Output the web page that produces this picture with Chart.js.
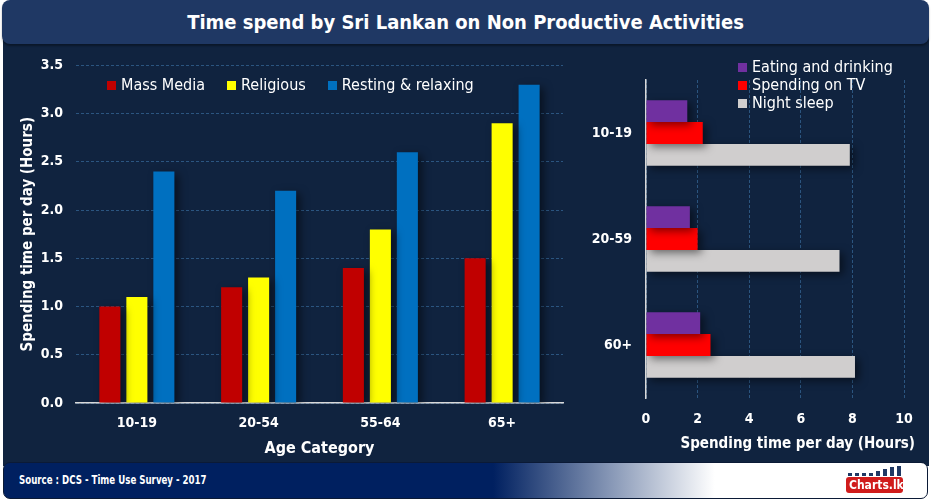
<!DOCTYPE html>
<html>
<head>
<meta charset="utf-8">
<script src="https://cdn.jsdelivr.net/npm/chart.js@4/dist/chart.umd.min.js"></script>
<style>
  html,body{margin:0;padding:0;background:#ffffff;width:931px;height:500px;overflow:hidden;}
  body{position:relative;font-family:"DejaVu Sans Condensed","Liberation Sans Narrow","Roboto",sans-serif;}
  #body{position:absolute;left:3px;top:30px;width:926px;height:436px;background:#10233f;}
  #titlebar{position:absolute;left:2px;top:0;width:927px;height:44px;background:#1f3864;border-radius:8px;
    box-shadow:0 2px 2px rgba(0,0,0,0.35);
    color:#fff;font-weight:bold;font-size:20px;text-align:center;line-height:44px;}
  #footer{position:absolute;left:3px;top:462px;width:923px;height:35px;border-radius:7px;border:1px solid #0b1a36;
    background:linear-gradient(to right,#002060 0%,#002060 53%,#8a9ab8 66%,#ffffff 77%,#ffffff 100%);}
  #src{position:absolute;left:15px;top:0;line-height:35px;color:#fff;font-size:12px;font-weight:bold;
    transform:scaleX(0.8);transform-origin:left center;white-space:nowrap;}
  #logo{position:absolute;left:843px;top:465px;width:64px;height:30px;}
  #logo .box{position:absolute;left:3px;top:12px;width:57px;height:16px;background:#d01c1c;border-radius:3px;color:#fff;
    font-size:12px;font-weight:bold;line-height:16px;text-indent:3px;}
  #logo .bars{position:absolute;left:5px;top:1px;height:10px;width:55px;}
  #logo .bars i{position:absolute;bottom:0;width:4px;background:#1f3864;}
  canvas{position:absolute;}
  #c1{left:3px;top:44px;}
  #c2{left:580px;top:44px;}
  .leg{position:absolute;color:#fff;font-size:16px;white-space:nowrap;}
  .leg span.sq{display:inline-block;width:9px;height:9px;margin-right:5px;}
  #xt2{position:absolute;left:620px;width:295px;top:434px;text-align:right;color:#fff;font-size:15px;font-weight:bold;white-space:nowrap;}
</style>
</head>
<body>
<div id="body"></div>
<div id="titlebar">Time spend by Sri Lankan on Non Productive Activities</div>
<canvas id="c1" width="577" height="418"></canvas>
<canvas id="c2" width="348" height="418"></canvas>
<div id="leg1"></div>
<div id="leg2"></div>
<div id="xt2"></div>
<div id="footer"><div id="src">Source : DCS - Time Use Survey - 2017</div></div>
<div id="logo"><div class="bars"><i style="left:0;height:3px"></i><i style="left:7px;height:3px"></i><i style="left:14px;height:3px"></i><i style="left:21px;height:3px"></i><i style="left:28px;height:5px"></i><i style="left:35px;height:7px"></i><i style="left:42px;height:9px"></i><i style="left:49px;height:10px"></i></div><div class="box">Charts.lk</div></div>
<script>
// ---- Data ----
const ageCategories = ["10-19", "20-54", "55-64", "65+"];
const massMedia = [1.0, 1.2, 1.4, 1.5];
const religious = [1.1, 1.3, 1.8, 2.9];
const restingRelaxing = [2.4, 2.2, 2.6, 3.3];
const leftSeriesNames = ["Mass Media", "Religious", "Resting & relaxing"];
const leftYTicks = [0, 0.5, 1.0, 1.5, 2.0, 2.5, 3.0, 3.5];

const ageGroups2 = ["10-19", "20-59", "60+"];
const eatingDrinking = [1.6, 1.7, 2.1];
const spendingTV = [2.2, 2.0, 2.5];
const nightSleep = [7.9, 7.5, 8.1];
const rightSeriesNames = ["Eating and drinking", "Spending on TV", "Night sleep"];
const rightXTicks = [0, 2, 4, 6, 8, 10];
const rightXTitle = "Spending time per day (Hours)";

// ---- Styles ----
const FONT = '"DejaVu Sans Condensed","Liberation Sans Narrow","Roboto",sans-serif';
const leftColors = ["#c00000", "#ffff00", "#0070c0"];
const rightColors = ["#7030a0", "#ff0000", "#d0cece"];
const gridColor = "#2b5580";

const shadowPlugin = {
  id: 'barShadow',
  beforeDatasetsDraw(chart) {
    const ctx = chart.ctx;
    ctx.save();
    ctx.shadowColor = 'rgba(0,0,0,0.5)';
    ctx.shadowBlur = 8;
    ctx.shadowOffsetX = 4;
    ctx.shadowOffsetY = 3;
  },
  afterDatasetsDraw(chart) { chart.ctx.restore(); }
};

Chart.defaults.font.family = FONT;
Chart.defaults.color = "#ffffff";

function legendHTML(el, names, colors, style, vertical) {
  el.className = 'leg';
  Object.assign(el.style, style);
  el.innerHTML = names.map((n, i) =>
    `<div style="display:${vertical ? 'block' : 'inline-block'};margin-right:${vertical ? 0 : 22}px;line-height:18px"><span class="sq" style="background:${colors[i]}"></span>${n}</div>`
  ).join('');
}

// ---- Left chart ----
new Chart(document.getElementById('c1'), {
  type: 'bar',
  data: {
    labels: ageCategories,
    datasets: [massMedia, religious, restingRelaxing].map((d, i) => ({
      label: leftSeriesNames[i], data: d, backgroundColor: leftColors[i],
      categoryPercentage: 0.665, barPercentage: 0.78
    }))
  },
  options: {
    responsive: false, animation: false,
    layout: { padding: { left: 0, top: 15, right: 17, bottom: 0 } },
    plugins: { legend: { display: false }, tooltip: { enabled: false } },
    scales: {
      x: {
        grid: { display: false, drawTicks: false },
        border: { color: '#d9d9d9', width: 1.5 },
        ticks: { font: { size: 14, weight: 'bold' }, color: '#fff', padding: 12 },
        title: { display: true, text: 'Age Category', font: { size: 16, weight: 'bold' }, color: '#fff', padding: { top: 4 } },
        afterFit(s) { s.height = 59; }
      },
      y: {
        min: 0, max: 3.5,
        afterBuildTicks(s) { s.ticks = leftYTicks.map(v => ({ value: v })); },
        grid: { color: gridColor, drawTicks: false, lineWidth: 1 },
        border: { display: false, dash: [3, 2] },
        ticks: { font: { size: 14, weight: 'bold' }, color: '#fff', padding: 13, callback: v => v.toFixed(1) },
        title: { display: true, text: 'Spending time per day (Hours)', font: { size: 15, weight: 'bold' }, color: '#fff', padding: { top: 16, bottom: 0 } },
        afterFit(s) { s.width = 73; }
      }
    }
  },
  plugins: [shadowPlugin]
});

// ---- Right chart ----
new Chart(document.getElementById('c2'), {
  type: 'bar',
  data: {
    labels: ageGroups2,
    datasets: [eatingDrinking, spendingTV, nightSleep].map((d, i) => ({
      label: rightSeriesNames[i], data: d, backgroundColor: rightColors[i],
      categoryPercentage: 0.62, barPercentage: 1.0
    }))
  },
  options: {
    indexAxis: 'y',
    responsive: false, animation: false,
    layout: { padding: { left: 0, top: 36, right: 24, bottom: 0 } },
    plugins: { legend: { display: false }, tooltip: { enabled: false } },
    scales: {
      x: {
        min: 0, max: 10,
        afterBuildTicks(s) { s.ticks = rightXTicks.map(v => ({ value: v })); },
        grid: { color: gridColor, drawTicks: false },
        border: { display: false, dash: [3, 2] },
        ticks: { font: { size: 14, weight: 'bold' }, color: '#fff', padding: 13 },
        afterFit(s) { s.height = 64; }
      },
      y: {
        grid: { display: false, drawTicks: false },
        border: { color: '#d9d9d9', width: 1.5 },
        ticks: { font: { size: 14, weight: 'bold' }, color: '#fff', padding: 14 },
        afterFit(s) { s.width = 66; }
      }
    }
  },
  plugins: [shadowPlugin]
});

document.getElementById('xt2').textContent = rightXTitle;
legendHTML(document.getElementById('leg1'), leftSeriesNames, leftColors, { left: '107px', top: '75px' }, false);
legendHTML(document.getElementById('leg2'), rightSeriesNames, rightColors, { left: '738px', top: '58px' }, true);
</script>
</body>
</html>
